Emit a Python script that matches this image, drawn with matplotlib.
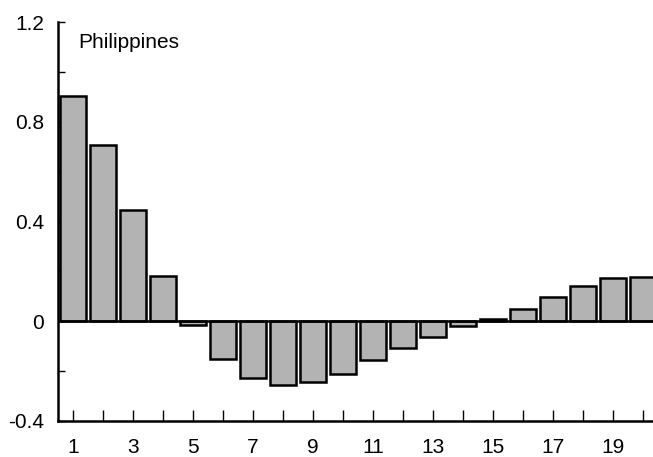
import matplotlib
matplotlib.use("Agg")
import matplotlib.pyplot as plt

plt.rcParams['font.family'] = ['Liberation Sans', 'DejaVu Sans']

# lag index and values
lags = list(range(1, 21))
values = [0.904, 0.707, 0.447, 0.180, -0.016, -0.153, -0.229, -0.255, -0.245, -0.212,
          -0.157, -0.107, -0.063, -0.021, 0.011, 0.051, 0.099, 0.141, 0.172, 0.176]
y_ticks = [-0.4, -0.2, 0, 0.2, 0.4, 0.6, 0.8, 1.0, 1.2]
y_labels = ['-0.4', '', '0', '', '0.4', '', '0.8', '', '1.2']
x_labels = [str(i) if i % 2 == 1 else '' for i in lags]

fig = plt.figure(figsize=(6.53, 4.57), dpi=100)
ax = fig.add_axes([58 / 653, 36 / 457, 595 / 653, 399 / 457])

ax.bar(lags, values, width=0.85, color='#b3b3b3', edgecolor='black', linewidth=1.8, zorder=2)
ax.axhline(0, color='black', linewidth=1.8, zorder=3)

ax.set_xlim(0.5, 20.33)
ax.set_ylim(-0.4, 1.2)
ax.set_yticks(y_ticks)
ax.set_yticklabels(y_labels)
ax.set_xticks(lags)
ax.set_xticklabels(x_labels)

for s in ['top', 'right']:
    ax.spines[s].set_visible(False)
for s in ['left', 'bottom']:
    ax.spines[s].set_linewidth(1.8)

ax.tick_params(axis='y', direction='in', length=5, width=1, pad=10, labelsize=15)
ax.tick_params(axis='x', direction='in', length=8, width=1, pad=12, labelsize=15)

ax.text(1.17, 1.116, 'Philippines', fontsize=15, va='center', ha='left')

fig.savefig('out.png', dpi=100)
